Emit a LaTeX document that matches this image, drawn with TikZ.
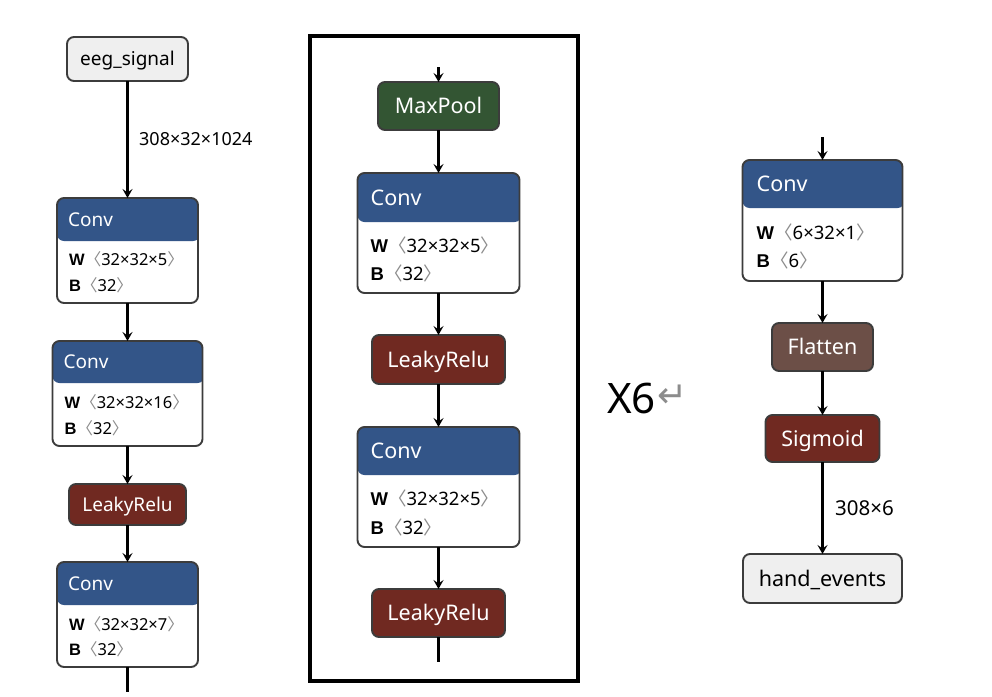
\documentclass[tikz,border=0pt]{standalone}
\usepackage{fontspec}
\setmainfont{Noto Sans}
\newfontfamily\cjkf{Noto Sans CJK SC}
\newfontfamily\djv{DejaVu Sans}
\newfontfamily\libs{Liberation Sans}
\usetikzlibrary{arrows.meta}
\definecolor{convblue}{RGB}{51,85,136}
\definecolor{actred}{RGB}{112,41,33}
\definecolor{poolgreen}{RGB}{51,85,51}
\definecolor{shapebrown}{RGB}{108,79,71}
\definecolor{iofill}{RGB}{239,239,239}
\definecolor{bordergray}{RGB}{60,60,60}
\definecolor{brkgray}{RGB}{140,140,140}
\newcommand\sh[1]{{\color{brkgray}\cjkf 〈}#1{\color{brkgray}\cjkf 〉}}
\newcommand\bl[1]{{\libs\bfseries #1}}
\newcommand\ftA{\fontsize{19}{23}\selectfont}
\newcommand\ftB{\fontsize{21.5}{26}\selectfont}
\newcommand\fwA{\fontsize{16.5}{19}\selectfont}
\newcommand\fwB{\fontsize{18.5}{22}\selectfont}
\newcommand\feA{\fontsize{18}{22}\selectfont}
\newcommand\feB{\fontsize{20.5}{24}\selectfont}
\newcommand\fxx{\fontsize{42}{50}\selectfont}
\begin{document}
\begin{tikzpicture}[x=1pt,y=-1pt,
  box/.style={draw=bordergray, line width=1.9pt, rounded corners=7pt, inner sep=0pt, outer sep=0pt},
  iobox/.style={box, fill=iofill, text=black},
  opbox/.style={box, fill=#1, text=white},
  convbox/.style={box, fill=white, path picture={\fill[convblue] ([yshift=2pt]path picture bounding box.north west) rectangle ([xshift=2pt,yshift=-#1]path picture bounding box.north east);}},
  tA/.style={font=\ftA, text height=13.7pt, text depth=0pt, inner sep=0pt},
  tB/.style={font=\ftB, text height=15.5pt, text depth=0pt, inner sep=0pt},
  wA/.style={font=\fwA, text height=11.8pt, text depth=0pt, inner sep=0pt, anchor=west},
  wB/.style={font=\fwB, text height=13.2pt, text depth=0pt, inner sep=0pt, anchor=west},
  eA/.style={font=\feA, text height=12.9pt, text depth=0pt, inner sep=0pt, anchor=west},
  eB/.style={font=\feB, text height=14.7pt, text depth=0pt, inner sep=0pt, anchor=west},
  arr/.style={draw=black, line width=2.1pt, -{Stealth[length=9pt, width=10pt, inset=3.5pt]}},
  ln/.style={draw=black, line width=2.1pt}
]
\useasboundingbox (0,0) rectangle (992,696);
\fill[white] (0,0) rectangle (992,696);

% ---------- left column ----------
\node[iobox, tA, minimum width=121pt, minimum height=44pt] (in1) at (127.5,59) {eeg\_signal};

\node[convbox=43pt, minimum width=141pt, minimum height=105pt] (c1) at (127.5,250.5) {};
\node[tA, text=white, anchor=west] (c1t) at ([xshift=11pt,yshift=-21.5pt]c1.north west) {Conv};
\node[wA] (c1w) at ([xshift=12pt,yshift=-62pt]c1.north west) {\bl{W}\sh{32×32×5}};
\node[wA] (c1b) at ([xshift=12pt,yshift=-88pt]c1.north west) {\bl{B}\sh{32}};

\node[convbox=42pt, minimum width=150pt, minimum height=105pt] (c2) at (127.5,393.5) {};
\node[tA, text=white, anchor=west] (c2t) at ([xshift=11pt,yshift=-21pt]c2.north west) {Conv};
\node[wA] (c2w) at ([xshift=12pt,yshift=-62pt]c2.north west) {\bl{W}\sh{32×32×16}};
\node[wA] (c2b) at ([xshift=12pt,yshift=-88pt]c2.north west) {\bl{B}\sh{32}};

\node[opbox=actred, tA, minimum width=117pt, minimum height=41pt] (lr1) at (127.5,504.5) {LeakyRelu};

\node[convbox=43pt, minimum width=141pt, minimum height=105pt] (c3) at (127.5,614.5) {};
\node[tA, text=white, anchor=west] (c3t) at ([xshift=11pt,yshift=-21.5pt]c3.north west) {Conv};
\node[wA] (c3w) at ([xshift=12pt,yshift=-62.5pt]c3.north west) {\bl{W}\sh{32×32×7}};
\node[wA] (c3b) at ([xshift=12pt,yshift=-88pt]c3.north west) {\bl{B}\sh{32}};
\coordinate (le) at (127.5,692);

\draw[arr] (in1.south) -- (c1.north);
\node[eA] (e1) at (139,139) {308×32×1024};
\draw[arr] (c1.south) -- (c2.north);
\draw[arr] (c2.south) -- (lr1.north);
\draw[arr] (lr1.south) -- (c3.north);
\draw[ln] (c3.south) -- (le);

% ---------- middle (repeated block) ----------
\node[draw=black, line width=3.2pt, minimum width=268pt, minimum height=645pt, inner sep=0pt] (frame) at (444,358.5) {};
\coordinate (ms) at (438.5,67);
\node[opbox=poolgreen, tB, minimum width=121pt, minimum height=48pt] (mp) at (438.5,106) {MaxPool};

\node[convbox=49pt, minimum width=162pt, minimum height=120pt] (m1) at (438.5,233) {};
\node[tB, text=white, anchor=west] (m1t) at ([xshift=13pt,yshift=-24.5pt]m1.north west) {Conv};
\node[wB] (m1w) at ([xshift=13pt,yshift=-73pt]m1.north west) {\bl{W}\sh{32×32×5}};
\node[wB] (m1b) at ([xshift=13pt,yshift=-100.5pt]m1.north west) {\bl{B}\sh{32}};

\node[opbox=actred, tB, minimum width=133pt, minimum height=49pt] (mlr1) at (438.5,359.5) {LeakyRelu};

\node[convbox=48pt, minimum width=162pt, minimum height=120pt] (m2) at (438.5,487) {};
\node[tB, text=white, anchor=west] (m2t) at ([xshift=13pt,yshift=-24pt]m2.north west) {Conv};
\node[wB] (m2w) at ([xshift=13pt,yshift=-72pt]m2.north west) {\bl{W}\sh{32×32×5}};
\node[wB] (m2b) at ([xshift=13pt,yshift=-100.5pt]m2.north west) {\bl{B}\sh{32}};

\node[opbox=actred, tB, minimum width=133pt, minimum height=48pt] (mlr2) at (438.5,613) {LeakyRelu};
\coordinate (me) at (438.5,662);

\draw[arr] (ms) -- (mp.north);
\draw[arr] (mp.south) -- (m1.north);
\draw[arr] (m1.south) -- (mlr1.north);
\draw[arr] (mlr1.south) -- (m2.north);
\draw[arr] (m2.south) -- (mlr2.north);
\draw[ln] (mlr2.south) -- (me);

% ---------- repeat mark ----------
\node[anchor=west, font=\fxx, text height=30pt, text depth=0pt, inner sep=0pt] (x6) at (607,398) {X6};
\node[anchor=base west, font=\djv\fontsize{36}{40}\selectfont, text=brkgray, inner sep=0pt] (ret) at (657,407) {↵};

% ---------- right column ----------
\coordinate (rs) at (822.5,137);
\node[convbox=48pt, minimum width=160pt, minimum height=121pt] (r1) at (822.5,220.5) {};
\node[tB, text=white, anchor=west] (r1t) at ([xshift=14pt,yshift=-24pt]r1.north west) {Conv};
\node[wB] (r1w) at ([xshift=14pt,yshift=-72.5pt]r1.north west) {\bl{W}\sh{6×32×1}};
\node[wB] (r1b) at ([xshift=14pt,yshift=-100.5pt]r1.north west) {\bl{B}\sh{6}};

\node[opbox=shapebrown, tB, minimum width=101pt, minimum height=48pt] (fl) at (822.5,347) {Flatten};
\node[opbox=actred, tB, minimum width=114pt, minimum height=47pt] (sg) at (822.5,438.5) {Sigmoid};
\node[iobox, tB, minimum width=159pt, minimum height=49pt] (he) at (822.5,578.5) {hand\_events};

\draw[arr] (rs) -- (r1.north);
\draw[arr] (r1.south) -- (fl.north);
\draw[arr] (fl.south) -- (sg.north);
\draw[arr] (sg.south) -- (he.north);
\node[eB] (e2) at (835,508) {308×6};
\end{tikzpicture}
\end{document}
